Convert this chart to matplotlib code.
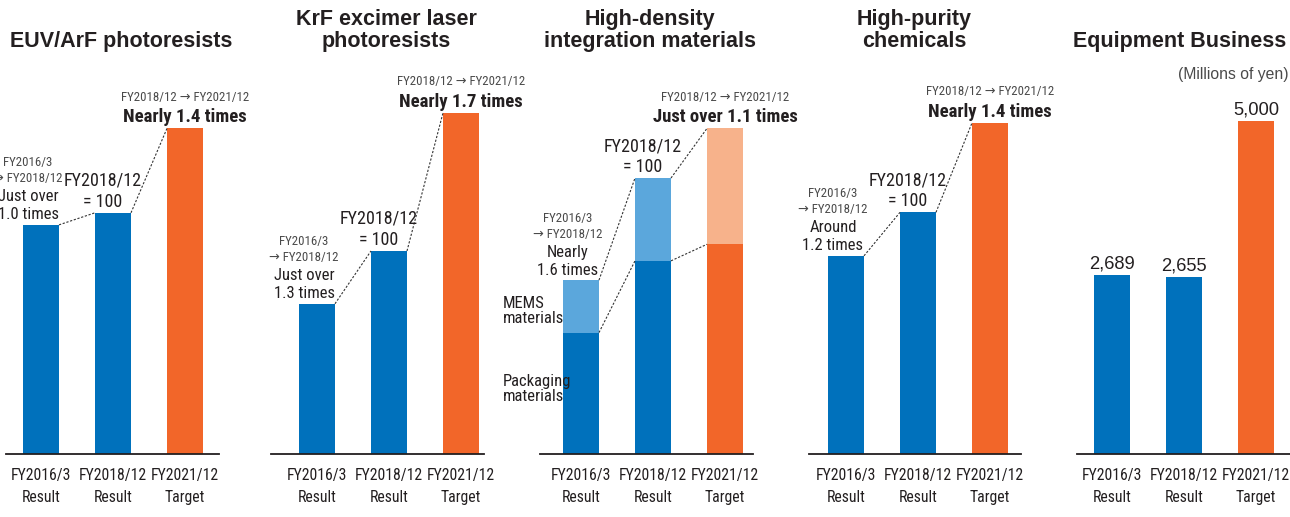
import matplotlib.pyplot as plt
import numpy as np
from matplotlib import font_manager

# categories and values (index: FY2018/12 = 100, equipment in millions of yen)
periods = ["FY2016/3\nResult", "FY2018/12\nResult", "FY2021/12\nTarget"]
euv_arf = [95, 100, 135]
krf = [74, 100, 168]
packaging = [44, 70, 76]
mems = [19, 30, 42]
high_purity = [82, 100, 137]
equipment = [2689, 2655, 5000]

titles = ["EUV/ArF photoresists", "KrF excimer laser\nphotoresists",
          "High-density\nintegration materials", "High-purity\nchemicals",
          "Equipment Business"]
early_growth = [("Just over", "1.0 times"), ("Just over", "1.3 times"),
                ("Nearly", "1.6 times"), ("Around", "1.2 times")]
target_growth = ["Nearly 1.4 times", "Nearly 1.7 times",
                 "Just over 1.1 times", "Nearly 1.4 times"]

BLUE = "#0071bc"
ORANGE = "#f26629"
LIGHT_BLUE = "#5ba7dc"
LIGHT_ORANGE = "#f7b28b"
INK = "#231f20"
GRAY = "#4a4a4a"
SANS = ["Liberation Sans", "DejaVu Sans"]


def narrow_font():
    # prefer a condensed face for the small labels, fall back to Roboto
    fonts = font_manager.fontManager.ttflist
    for name in ("Liberation Sans Narrow", "Roboto Condensed", "Arial Narrow", "Open Sans Condensed"):
        if any(f.name == name for f in fonts):
            return {"family": [name, "DejaVu Sans"]}, 1.0
    for f in fonts:
        if f.name == "DejaVu Sans" and str(f.stretch) in ("condensed", "semi-condensed", "500", "300"):
            return {"family": ["DejaVu Sans"], "fontstretch": "condensed"}, 0.95
    return {"family": ["Roboto", "DejaVu Sans"]}, 0.88


NARROW, SCALE = narrow_font()

W, H = 1290, 517
BASE, TOP = 454, 60
# axis line extent and first bar centre, in pixels
spans = [(6, 219, 41), (271, 484, 317), (540, 753, 581), (809, 1021, 846), (1077, 1290, 1112)]
headroom = [1.21, 1.155, 1.21, 1.19, 1.183]
title_x = [121, 386, 650, 914, 1180]
BAR_W = 0.5

fig = plt.figure(figsize=(W / 100, H / 100), dpi=100)
x = np.arange(len(periods))


def make_axes(i, top_value):
    left, right, c0 = spans[i]
    ax = fig.add_axes([left / W, (H - BASE) / H, (right - left) / W, (BASE - TOP) / H])
    ax.set_xlim((left - c0) / 72, (right - c0) / 72)
    ax.set_ylim(0, top_value * headroom[i])
    for s in ["left", "right", "top"]:
        ax.spines[s].set_visible(False)
    ax.spines["bottom"].set_color(INK)
    ax.spines["bottom"].set_linewidth(1.3)
    ax.set_yticks([])
    ax.set_xticks(x, periods)
    ax.tick_params(axis="x", length=0, pad=10)
    for t in ax.get_xticklabels():
        t.update(NARROW)
        t.set_fontsize(11.3 * SCALE)
        t.set_color(INK)
        t.set_linespacing(1.6)
    fig.text(title_x[i] / W, (H - 52) / H, titles[i], ha="center", va="bottom",
             family=SANS, fontweight="bold", fontsize=15.5, color=INK, linespacing=1.05)
    return ax


def note(ax, xy, text, dx, dy, size, color=INK, weight="normal", ha="center"):
    ax.annotate(text, xy, xytext=(dx, dy), textcoords="offset pixels", ha=ha, va="center",
                fontsize=size * SCALE, color=color, fontweight=weight,
                annotation_clip=False, **NARROW)


def connectors(ax, levels):
    for i in range(len(levels) - 1):
        ax.plot([i + BAR_W / 2, i + 1 - BAR_W / 2], [levels[i], levels[i + 1]],
                ls=(0, (2, 1.5)), lw=0.8, color="#333333", zorder=3)


def growth_notes(ax, i, tops):
    first, second = early_growth[i]
    note(ax, (0, tops[0]), "FY2016/3", -13, 62, 9.3, GRAY)
    note(ax, (0, tops[0]), "\u2192 FY2018/12", -13, 46, 9.3, GRAY)
    note(ax, (0, tops[0]), first, -13, 28, 12)
    note(ax, (0, tops[0]), second, -13, 10, 12)
    note(ax, (1, tops[1]), "FY2018/12", -10, 32, 13)
    note(ax, (1, tops[1]), "= 100", -10, 11, 13)
    note(ax, (2, tops[2]), "FY2018/12 \u2192 FY2021/12", 0, 31, 9.3, GRAY)
    note(ax, (2, tops[2]), target_growth[i], 0, 11, 13.5, weight="bold")


bar_colors = [BLUE, BLUE, ORANGE]

# simple index panels
for i, vals in [(0, euv_arf), (1, krf), (3, high_purity)]:
    ax = make_axes(i, max(vals))
    ax.bar(x, vals, width=BAR_W, color=bar_colors)
    connectors(ax, vals)
    growth_notes(ax, i, vals)

# stacked panel: packaging + MEMS materials
totals = [p + m for p, m in zip(packaging, mems)]
ax = make_axes(2, max(totals))
ax.bar(x, packaging, width=BAR_W, color=bar_colors)
ax.bar(x, mems, width=BAR_W, bottom=packaging, color=[LIGHT_BLUE, LIGHT_BLUE, LIGHT_ORANGE])
connectors(ax, packaging)
connectors(ax, totals)
growth_notes(ax, 2, totals)
note(ax, (-BAR_W / 2, totals[0]), "MEMS", -60, -23, 12, ha="left")
note(ax, (-BAR_W / 2, totals[0]), "materials", -60, -38, 12, ha="left")
note(ax, (-BAR_W / 2, packaging[0]), "Packaging", -60, -49, 12, ha="left")
note(ax, (-BAR_W / 2, packaging[0]), "materials", -60, -64, 12, ha="left")

# equipment business in millions of yen
ax = make_axes(4, max(equipment))
bars = ax.bar(x, equipment, width=BAR_W, color=bar_colors)
ax.bar_label(bars, labels=[f"{v:,}" for v in equipment], padding=2,
             family=SANS, fontsize=13.2, color=INK)
fig.text(1288 / W, (H - 74) / H, "(Millions of yen)", ha="right", va="center",
         family=SANS, fontsize=11.3, color=GRAY)

fig.savefig("out.png", dpi=100)
